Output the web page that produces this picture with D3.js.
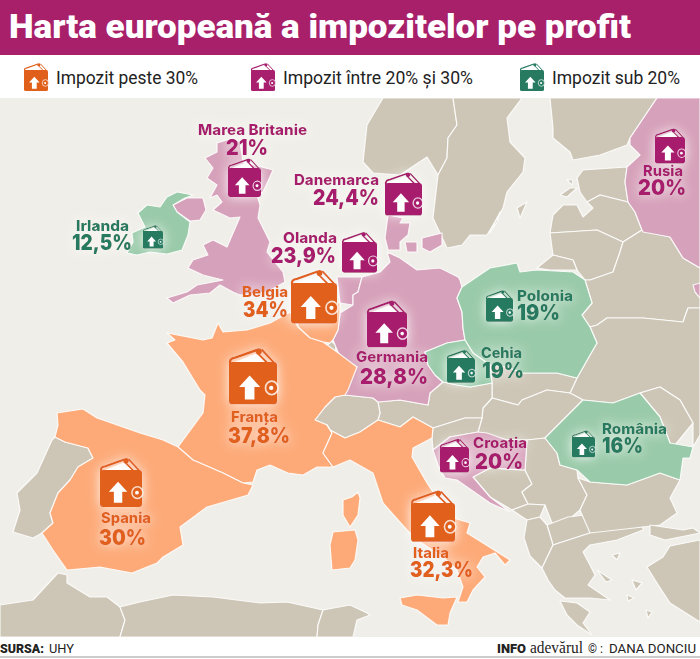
<!DOCTYPE html>
<html>
<head>
<meta charset="utf-8">
<script src="https://cdnjs.cloudflare.com/ajax/libs/d3/7.8.5/d3.min.js"></script>
<style>
  html, body { margin: 0; padding: 0; background: #fff; }
  svg { display: block; }
  text { font-family: Inter, Roboto, sans-serif; }
</style>
</head>
<body>
<svg id="chart" width="700" height="659"></svg>
<script>
// Tax rates, as printed on the map
const countries = ['Marea Britanie', 'Danemarca', 'Olanda', 'Belgia', 'Irlanda', 'Rusia', 'Polonia',
  'Cehia', 'Germania', 'Franța', 'Croația', 'România', 'Spania', 'Italia'];
const rates = [21, 24.4, 23.9, 34, 12.5, 20, 19, 19, 28.8, 37.8, 20, 16, 30, 32.3];
const legendLabels = ['Impozit peste 30%', 'Impozit între 20% și 30%', 'Impozit sub 20%'];

// Outlines, in map units
const outlines = {
  sand: [
    ['norway', [[383,98],[367,125],[363,162],[373,173],[400,175],[427,157],[438,175],[447,158],[448,138],[457,125],[453,98]]],
    ['sweden', [[453,98],[522,98],[507,118],[510,142],[525,158],[523,172],[507,192],[503,208],[487,235],[470,235],[462,245],[447,248],[433,218],[438,175],[447,158],[448,138],[457,125]]],
    ['gotland', [[517,208],[527,202],[520,218]]],
    ['oland', [[490,233],[500,212],[497,222]]],
    ['finland', [[550,98],[657,98],[630,138],[627,145],[600,155],[573,160],[570,152],[553,138],[553,128]]],
    ['estonia', [[577,178],[583,170],[627,167],[625,182],[628,202],[600,195],[587,202],[580,192]]],
    ['latvia', [[553,215],[563,205],[577,205],[583,217],[593,208],[587,202],[600,195],[628,202],[635,212],[642,230],[623,242],[597,230],[550,233]]],
    ['lithuania', [[550,233],[597,230],[623,242],[620,252],[613,272],[590,280],[585,280],[577,270],[573,260],[553,255]]],
    ['saaremaa', [[560,195],[570,188],[577,188],[567,197]]],
    ['hiiumaa', [[567,180],[573,180],[572,185]]],
    ['kaliningrad', [[537,268],[553,255],[573,260],[577,270],[550,270]]],
    ['belarus', [[613,272],[620,252],[623,242],[642,230],[670,237],[683,258],[700,268],[700,308],[688,308],[683,322],[643,318],[607,318],[597,325],[590,327],[582,315],[592,303],[585,280],[590,280]]],
    ['ukraine', [[590,327],[597,325],[607,318],[643,318],[683,322],[688,308],[700,308],[700,435],[693,447],[693,423],[680,400],[660,387],[640,393],[613,403],[583,400],[570,393],[577,378],[590,355],[597,343]]],
    ['moldova', [[640,393],[660,387],[680,400],[693,423],[675,445],[670,443],[660,417]]],
    ['slovakia', [[490,365],[507,367],[523,373],[557,373],[577,378],[570,393],[547,390],[522,400],[518,405],[492,398],[492,383]]],
    ['hungary', [[492,398],[518,405],[522,400],[547,390],[570,393],[583,400],[563,420],[545,438],[527,440],[507,440],[478,432],[482,418],[483,408]]],
    ['austria', [[378,402],[400,400],[428,405],[430,393],[443,382],[457,385],[470,387],[492,383],[492,398],[483,408],[482,418],[465,418],[433,428],[413,417],[400,427],[378,420],[380,413]]],
    ['slovenia', [[433,428],[465,418],[482,418],[478,432],[450,437],[433,450],[432,438]]],
    ['switzerland', [[315,420],[325,407],[335,397],[345,395],[373,398],[378,402],[380,413],[378,420],[360,432],[345,438],[330,430],[327,425]]],
    ['luxembourg', [[326,347],[331,341],[336,345],[335,354],[329,353]]],
    ['bosnia', [[490,468],[525,470],[532,484],[522,492],[528,504],[512,510],[490,497],[473,477]]],
    ['serbia', [[527,440],[545,438],[557,453],[560,465],[577,470],[578,478],[587,495],[580,510],[568,520],[552,523],[545,505],[528,504],[522,492],[532,484],[525,470]]],
    ['montenegro', [[512,510],[528,504],[545,505],[540,517],[527,520]]],
    ['macedonia', [[547,525],[568,517],[585,515],[590,533],[553,545]]],
    ['albania', [[527,520],[540,517],[547,525],[553,545],[542,568],[530,556],[524,538]]],
    ['bulgaria', [[590,482],[627,485],[660,473],[680,480],[670,498],[677,513],[660,525],[643,527],[600,535],[590,533],[580,510],[587,495],[578,478]]],
    ['greece', [[542,568],[553,545],[590,533],[643,527],[643,530],[617,540],[590,545],[583,552],[590,565],[595,575],[588,585],[610,600],[590,598],[565,598],[555,590],[548,580]]],
    ['peloponnese', [[560,601],[577,603],[590,612],[583,623],[592,635],[577,625],[567,615]]],
    ['turkeyEu', [[650,525],[683,530],[693,528],[700,533],[665,540],[650,535]]],
    ['turkey', [[700,540],[670,546],[663,557],[647,567],[657,583],[670,603],[700,622]]],
    ['aegean1', [[597,570],[612,580],[606,582]]],
    ['aegean2', [[632,580],[642,583],[636,590]]],
    ['aegean3', [[627,595],[634,598],[628,601]]],
    ['aegean4', [[612,555],[620,553],[617,560]]],
    ['aegean5', [[646,610],[652,612],[648,618]]],
    ['morocco', [[0,605],[33,600],[58,573],[67,575],[67,583],[90,597],[107,597],[120,607],[125,620],[120,637],[0,637]]],
    ['algeria', [[120,607],[140,602],[173,595],[213,597],[260,603],[287,602],[323,610],[318,625],[317,637],[120,637],[125,620]]],
    ['tunisia', [[323,610],[350,605],[367,613],[370,615],[357,620],[353,637],[317,637],[318,625]]],
    ['portugal', [[55,437],[65,442],[88,448],[93,458],[78,467],[70,480],[58,493],[50,513],[53,523],[42,533],[33,538],[13,532],[20,510],[17,493],[37,473],[52,440]]]
  ],
  magenta: [
    ['northIreland', [[173,205],[187,198],[203,198],[206,210],[200,220],[190,221],[177,212]]],
    ['britain', [[217,143],[233,138],[240,142],[243,162],[273,170],[263,192],[257,195],[260,205],[258,218],[270,242],[267,252],[283,272],[285,282],[267,292],[240,295],[233,292],[220,285],[210,293],[190,295],[173,303],[167,298],[187,292],[197,285],[213,282],[223,280],[203,275],[188,268],[193,260],[208,255],[203,245],[213,240],[227,247],[240,217],[230,218],[213,210],[222,202],[217,195],[210,198],[217,185],[207,178],[213,168],[205,158],[217,152]]],
    ['jutland', [[388,215],[403,218],[400,223],[410,223],[408,235],[400,242],[400,250],[388,250],[385,238]]],
    ['zealand', [[422,238],[442,233],[442,245],[430,252],[422,248]]],
    ['funen', [[405,242],[417,242],[417,252],[407,252]]],
    ['netherlands', [[337,277],[362,277],[358,292],[353,295],[353,305],[340,303]]],
    ['germany', [[387,252],[400,258],[417,270],[440,268],[458,277],[460,280],[462,287],[457,298],[462,312],[463,328],[465,340],[447,343],[425,352],[428,365],[435,375],[443,382],[430,393],[428,405],[400,400],[378,402],[373,398],[345,395],[352,375],[357,367],[340,357],[333,340],[338,330],[340,313],[353,305],[353,295],[358,292],[362,277],[380,272],[390,262]]],
    ['russia', [[657,98],[700,98],[700,268],[683,258],[670,237],[643,232],[642,230],[635,212],[628,202],[625,182],[627,167],[640,155],[630,145],[630,138]]],
    ['russiaEast', [[693,285],[700,283],[700,298],[695,292]]],
    ['croatia', [[433,450],[450,437],[478,432],[487,433],[507,440],[527,440],[525,470],[490,468],[473,477],[490,497],[510,512],[490,503],[457,480],[445,478],[438,465]]]
  ],
  orange: [
    ['belgium', [[295,300],[340,303],[340,313],[338,330],[333,340],[330,343],[323,342],[310,338],[298,327]]],
    ['france', [[167,333],[203,340],[212,338],[218,323],[223,332],[247,330],[270,323],[290,312],[298,327],[310,338],[323,342],[330,347],[337,352],[357,367],[348,390],[345,395],[335,397],[325,407],[315,420],[327,425],[332,433],[323,453],[333,467],[317,467],[303,475],[288,473],[270,465],[257,470],[253,482],[243,483],[223,473],[193,460],[178,447],[203,413],[205,395],[200,390],[183,362],[167,343],[175,340]]],
    ['spain', [[57,413],[83,409],[97,418],[140,433],[163,440],[178,447],[193,460],[223,473],[243,483],[253,485],[248,495],[207,507],[180,527],[183,545],[163,557],[157,563],[132,573],[100,567],[67,570],[53,550],[42,533],[53,523],[50,513],[58,493],[70,480],[78,467],[93,458],[88,448],[65,442],[55,437],[58,425]]],
    ['italy', [[327,425],[330,430],[345,438],[360,432],[378,420],[400,427],[413,417],[433,428],[432,438],[413,448],[412,457],[427,483],[450,517],[470,523],[467,533],[483,543],[510,560],[505,565],[495,553],[483,557],[477,567],[485,577],[473,590],[467,602],[458,602],[463,587],[457,570],[443,557],[417,540],[407,530],[383,503],[373,473],[350,460],[333,467],[323,453],[332,433]]],
    ['corsica', [[358,492],[360,498],[358,515],[350,527],[343,515],[343,500],[352,497]]],
    ['sardinia', [[333,532],[355,530],[358,540],[355,560],[350,568],[332,570],[330,545]]],
    ['sicily', [[400,598],[417,595],[443,598],[457,597],[450,613],[448,625],[437,625],[417,610],[402,605]]]
  ],
  green: [
    ['ireland', [[167,197],[177,192],[193,195],[185,198],[173,205],[177,212],[190,222],[188,235],[182,250],[167,254],[150,252],[137,255],[127,253],[133,242],[132,233],[145,227],[138,213],[147,205],[160,207]]],
    ['poland', [[462,287],[490,268],[517,263],[520,272],[537,270],[573,272],[585,280],[592,303],[582,315],[590,327],[597,343],[590,355],[577,378],[557,373],[523,373],[507,367],[490,365],[473,353],[468,345],[465,340],[463,328],[462,312],[457,298]]],
    ['czechia', [[425,352],[447,343],[465,340],[468,345],[473,353],[490,365],[492,383],[470,387],[457,385],[443,382],[435,375],[428,365]]],
    ['romania', [[583,400],[613,403],[640,393],[660,417],[670,443],[693,447],[690,458],[683,458],[680,480],[660,473],[627,485],[590,482],[577,470],[560,465],[557,453],[545,438],[563,420]]]
  ]
};

// Label placement per country, in the same order as countries:
// icon [left, top, width], name [left, right, baseline], rate [left, right, baseline]
const iconBoxes = [[228,168,33],[385,183,37],[342,242,35],[291,283,46],[143,231,20],[655,137,30],[486,298,27],
  [447,358,28],[367,312,40],[229,362,48],[440,447,29],[572,437,23],[100,470,42],[411,503,44]];
const nameBoxes = [[198,307,135],[294,379,185],[283,337,243],[242,288,297],[76,129,231],[643,683,176],[517,573,301],
  [481,522,358],[356,428,362],[231,278,422],[473,527,448],[602,667,434],[101,151,523],[413,449,558]];
const rateBoxes = [[226,268,155],[313,379,205],[271,336,263],[243,288,317],[72,132,250],[638,686,195],[517,560,320],
  [482,524,378],[360,428,384],[228,290,443],[475,523,469],[602,643,453],[99,146,545],[410,473,577]];

const fills = { sand: '#cdc6b6', magenta: '#d6a1ba', orange: '#fdaa78', green: '#99caa9' };
const bucket = d3.scaleThreshold().domain([20, 30]).range(['green', 'magenta', 'orange']);
const inks = { green: '#277a60', magenta: '#a81f6e', orange: '#e0601b' };
const formatRate = r => `${String(r).replace('.', ',')}%`;

const svg = d3.select('#chart');
const x = d3.scaleLinear().domain([0, 700]).range([0, 700]);
const y = d3.scaleLinear().domain([98, 637]).range([98, 637]);
const outline = d3.line().x(d => x(d[0])).y(d => y(d[1])).curve(d3.curveLinearClosed);

const defs = svg.append('defs');
defs.append('clipPath').attr('id', 'mapClip').append('rect')
  .attr('x', 0).attr('y', 98).attr('width', 700).attr('height', 539);
const glow = defs.append('filter').attr('id', 'glow')
  .attr('x', '-50%').attr('y', '-50%').attr('width', '200%').attr('height', '200%');
glow.append('feGaussianBlur').attr('in', 'SourceAlpha').attr('stdDeviation', 6).attr('result', 'b');
glow.append('feFlood').attr('flood-color', '#fff').attr('flood-opacity', 0.9);
glow.append('feComposite').attr('in2', 'b').attr('operator', 'in').attr('result', 'halo');
const glowMerge = glow.append('feMerge');
glowMerge.append('feMergeNode').attr('in', 'halo');
glowMerge.append('feMergeNode').attr('in', 'SourceGraphic');

// page bands
svg.append('rect').attr('width', 700).attr('height', 659).attr('fill', '#fff');
svg.append('rect').attr('width', 700).attr('height', 55).attr('fill', '#a8206a');
svg.append('rect').attr('y', 98).attr('width', 700).attr('height', 539).attr('fill', '#f0eee8');

svg.append('text').attr('x', 9).attr('y', 38)
  .attr('textLength', 622).attr('lengthAdjust', 'spacingAndGlyphs')
  .style('font-family', 'Roboto, sans-serif').style('font-weight', 900).style('font-size', '34px')
  .attr('fill', '#fff').text('Harta europeană a impozitelor pe profit');

// map
const map = svg.append('g').attr('clip-path', 'url(#mapClip)');
Object.keys(outlines).forEach(group => {
  map.append('g').selectAll('path')
    .data(outlines[group])
    .enter()
    .append('path')
    .attr('d', d => outline(d[1]))
    .attr('fill', fills[group])
    .attr('stroke', '#fff')
    .attr('stroke-opacity', 0.85)
    .attr('stroke-width', 1.2)
    .attr('stroke-linejoin', 'round');
});

// wallet icon, drawn in a 100 unit wide box
function drawWallet(sel, left, top, width, ink) {
  const g = sel.append('g').attr('transform', `translate(${left},${top}) scale(${width / 100})`);
  g.append('path').attr('d', 'M12,0 L55,-17 L82,0 Z').attr('fill', '#fff').attr('fill-opacity', 0.9);
  g.append('path').attr('d', 'M3,6 C0,-5 5,-8 13,-9 L58,-25').attr('fill', 'none').attr('stroke', ink).attr('stroke-width', 5);
  g.append('path').attr('d', 'M68,-26 L94,2 M60,-18 L80,2').attr('fill', 'none').attr('stroke', ink).attr('stroke-width', 4);
  g.append('circle').attr('cx', 62).attr('cy', -22).attr('r', 6.5).attr('fill', ink);
  g.append('path').attr('d', 'M0,6 Q0,0 7,0 L93,0 Q100,0 100,7 L100,81 Q100,88 93,88 L7,88 Q0,88 0,81 Z').attr('fill', ink);
  g.append('path').attr('d', 'M43,28 L65,52 L53,52 L53,78 L33,78 L33,52 L21,52 Z').attr('fill', '#fff');
  g.append('rect').attr('x', 76).attr('y', 40).attr('width', 26).attr('height', 28).attr('rx', 14)
    .attr('fill', ink).attr('stroke', '#fff').attr('stroke-opacity', 0.8).attr('stroke-width', 3.5);
  g.append('circle').attr('cx', 88).attr('cy', 54).attr('r', 4.5).attr('fill', '#fff');
}

// fitted text, so every label spans what it spans in the picture
function fitted(sel, box, size, weight, ink, str) {
  sel.append('text').attr('x', box[0]).attr('y', box[2])
    .attr('textLength', box[1] - box[0]).attr('lengthAdjust', 'spacingAndGlyphs')
    .style('font-size', `${size}px`).style('font-weight', weight)
    .attr('fill', ink).text(str);
}

const labels = map.append('g').selectAll('g')
  .data(countries.map((name, i) => ({ name, rate: rates[i], i })))
  .enter()
  .append('g')
  .attr('filter', 'url(#glow)');

labels.each(function (d) {
  const g = d3.select(this);
  const ink = inks[bucket(d.rate)];
  const icon = iconBoxes[d.i];
  drawWallet(g, icon[0], icon[1], icon[2], ink);
  fitted(g, nameBoxes[d.i], 14, 800, ink, d.name);
  fitted(g, rateBoxes[d.i], 21, 900, ink, formatRate(d.rate));
});

// legend
const legendIcons = [24, 251, 520];
const legendText = [[56, 198], [283, 473], [552, 680]];
const legendInks = [inks.orange, inks.magenta, inks.green];
legendLabels.forEach((label, i) => {
  drawWallet(svg, legendIcons[i], 70, 24, legendInks[i]);
  svg.append('text').attr('x', legendText[i][0]).attr('y', 84)
    .attr('textLength', legendText[i][1] - legendText[i][0]).attr('lengthAdjust', 'spacingAndGlyphs')
    .style('font-family', 'Roboto, sans-serif').style('font-size', '18px').style('font-weight', 400)
    .attr('fill', '#222').text(label);
});

// footer
svg.append('line').attr('x1', 0).attr('x2', 700).attr('y1', 657).attr('y2', 657)
  .attr('stroke', '#999').attr('stroke-width', 1);
const foot = [
  ['SURSA:', 0, 44, 900, 'Roboto, sans-serif'],
  ['UHY', 49, 25, 400, 'Roboto, sans-serif'],
  ['INFO', 497, 29, 900, 'Roboto, sans-serif'],
  ['adevărul', 530, 53, 400, '"Liberation Serif", serif'],
  ['©', 588, 9, 400, 'Roboto, sans-serif'],
  [':', 600, 3, 400, 'Roboto, sans-serif'],
  ['DANA DONCIU', 609, 87, 400, 'Roboto, sans-serif']
];
foot.forEach(f => {
  svg.append('text').attr('x', f[1]).attr('y', 653)
    .attr('textLength', f[2]).attr('lengthAdjust', 'spacingAndGlyphs')
    .style('font-family', f[4]).style('font-size', f[0] === 'adevărul' ? '16px' : '13px').style('font-weight', f[3])
    .attr('fill', '#222').text(f[0]);
});
</script>
</body>
</html>
